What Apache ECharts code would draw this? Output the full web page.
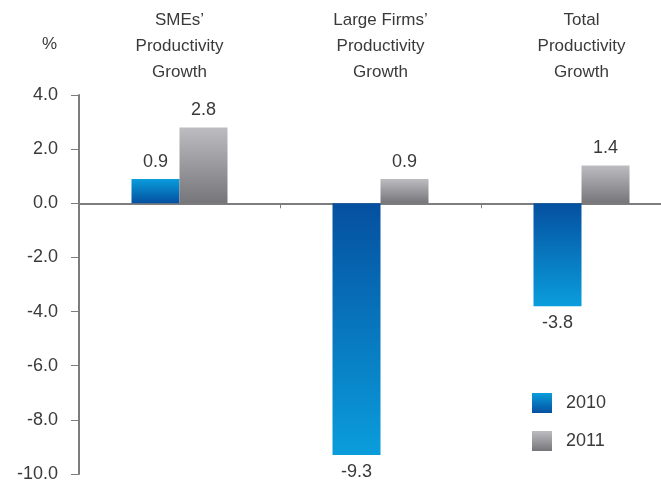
<!DOCTYPE html>
<html>
<head>
<meta charset="utf-8">
<script src="https://cdn.jsdelivr.net/npm/echarts@6/dist/echarts.min.js"></script>
<style>
  html, body { margin: 0; padding: 0; background: #fff; }
  #chart { width: 661px; height: 481px; }
</style>
</head>
<body>
<div id="chart"></div>
<script>
// Productivity growth by firm size, % change
const categories = ['SMEs’\nProductivity\nGrowth', 'Large Firms’\nProductivity\nGrowth', 'Total\nProductivity\nGrowth'];
const seriesNames = ['2010', '2011'];
const values2010 = [0.9, -9.3, -3.8];
const values2011 = [2.8, 0.9, 1.4];
const yMin = -10, yMax = 4, yStep = 2;

const FONT = '"Liberation Sans", Arial, sans-serif';
const TEXT = '#3a3a3a';
const AXIS = '#7d7d80';

// Gradient runs from dark at the zero line to light at the bar's far end
function grad(light, dark, negative) {
  return new echarts.graphic.LinearGradient(0, 0, 0, 1, negative
    ? [{ offset: 0, color: dark }, { offset: 1, color: light }]
    : [{ offset: 0, color: light }, { offset: 1, color: dark }]);
}
const palette = {
  '2010': { light: '#0a9ddc', dark: '#0550a0' },
  '2011': { light: '#bdbdc1', dark: '#76767a' }
};

function makeData(values, name) {
  const p = palette[name];
  return values.map(v => ({
    value: v,
    itemStyle: { color: grad(p.light, p.dark, v < 0) },
    label: { position: v < 0 ? 'bottom' : 'top' }
  }));
}

function makeSeries(values, name) {
  const p = palette[name];
  return {
    name: name,
    type: 'bar',
    xAxisIndex: 0,
    barWidth: 48,
    barGap: '0%',
    itemStyle: { color: grad(p.light, p.dark, false) },
    label: {
      show: true,
      distance: 8,
      fontFamily: FONT,
      fontSize: 18,
      color: TEXT,
      formatter: pr => pr.value.toFixed(1)
    },
    data: makeData(values, name)
  };
}

const chart = echarts.init(document.getElementById('chart'), null, { renderer: 'canvas' });
chart.setOption({
  animation: false,
  backgroundColor: '#ffffff',
  textStyle: { fontFamily: FONT },
  grid: { left: 79, top: 95, width: 603, bottom: 7, containLabel: false, outerBoundsMode: 'none' },
  legend: {
    orient: 'vertical',
    left: 527,
    top: 388,
    itemWidth: 20,
    itemHeight: 20,
    itemGap: 18,
    icon: 'rect',
    textStyle: { fontFamily: FONT, fontSize: 18, color: TEXT, padding: [0, 0, 0, 9] },
    data: seriesNames
  },
  xAxis: [
    {
      type: 'category',
      data: categories,
      position: 'bottom',
      axisLine: { onZero: true, lineStyle: { color: AXIS, width: 2 } },
      axisTick: { show: true, length: 5, lineStyle: { color: AXIS, width: 1 } },
      axisLabel: { show: false },
      splitLine: { show: false }
    },
    {
      type: 'category',
      data: categories,
      position: 'top',
      axisLine: { show: false },
      axisTick: { show: false },
      axisLabel: {
        margin: 10,
        fontFamily: FONT,
        fontSize: 17,
        lineHeight: 26,
        color: TEXT,
        align: 'center'
      },
      splitLine: { show: false }
    }
  ],
  yAxis: {
    type: 'value',
    min: yMin,
    max: yMax,
    interval: yStep,
    name: '%',
    nameLocation: 'end',
    nameGap: 42,
    nameTextStyle: { fontFamily: FONT, fontSize: 17, color: TEXT, align: 'right', padding: [0, 22, 0, 0] },
    axisLine: { show: true, lineStyle: { color: AXIS, width: 2 } },
    axisTick: { show: true, length: 8, lineStyle: { color: AXIS, width: 1 } },
    axisLabel: {
      margin: 21,
      fontFamily: FONT,
      fontSize: 18,
      color: TEXT,
      formatter: v => v.toFixed(1)
    },
    splitLine: { show: false }
  },
  series: [makeSeries(values2010, '2010'), makeSeries(values2011, '2011')]
});
</script>
</body>
</html>
